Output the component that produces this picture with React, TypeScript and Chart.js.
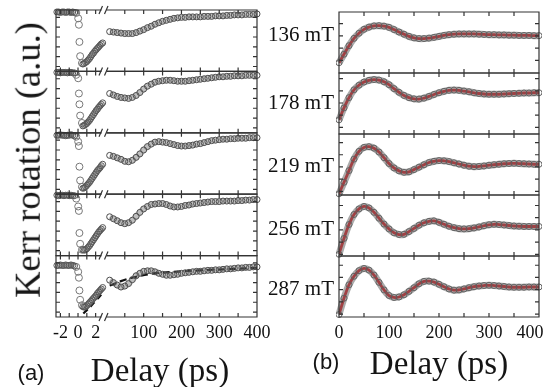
import React, { useEffect, useRef } from 'react';
import { Chart, registerables } from 'chart.js';

Chart.register(...registerables);

// ---------------- data: panel (a) (broken time axis) ----------------
const fieldLabels = ['136 mT', '178 mT', '219 mT', '256 mT', '287 mT'];

const tFlatA = [-2.4, -2.2, -2.0, -1.8, -1.6, -1.4, -1.2, -1.0, -0.8, -0.6, -0.4];
const tDropA = [-0.2, 0.02, 0.1, 0.16, 0.24, 0.45];
const tRiseA = [0.55, 0.7, 0.85, 1.0, 1.15, 1.3, 1.45, 1.6, 1.75, 1.9, 2.05, 2.2, 2.35, 2.5, 2.65, 2.8];
const tLongA = [10, 20, 30, 40, 50, 60, 70, 80, 90, 100, 110, 120, 130, 140, 150, 160, 170, 180, 190, 200,
  210, 220, 230, 240, 250, 260, 270, 280, 290, 300, 310, 320, 330, 340, 350, 360, 370, 380, 390, 400];

const flatA1 = [0.01, 0.01, 0.0, 0.01, 0.01, 0.0, 0.01, 0.01, 0.0, 0.01, 0.0];
const flatA2 = [0.03, 0.03, 0.02, 0.03, 0.03, 0.03, 0.02, 0.03, 0.03, 0.02, 0.02];
const flatA3 = [0.0, 0.0, 0.01, 0.0, 0.0, -0.01, 0.0, 0.0, 0.01, 0.0, -0.01];
const flatA4 = [0.03, 0.02, 0.03, 0.03, 0.02, 0.03, 0.03, 0.02, 0.03, 0.02, 0.02];
const flatA5 = [-0.15, -0.15, -0.14, -0.15, -0.15, -0.14, -0.15, -0.15, -0.14, -0.15, -0.16];

const dropA1 = [-0.01, -0.12, -0.25, -0.6, -0.89, -1.03];
const dropA2 = [-0.02, -0.09, -0.4, -0.62, -0.85, -1.0];
const dropA3 = [-0.03, -0.13, -0.22, -0.64, -0.92, -1.05];
const dropA4 = [-0.04, -0.2, -0.29, -0.74, -0.96, -1.08];
const dropA5 = [-0.18, -0.28, -0.4, -0.66, -0.85, -0.96];

const riseA1 = [-1.05, -1.04, -1.02, -1.0, -0.97, -0.94, -0.9, -0.86, -0.83, -0.79, -0.76, -0.73, -0.7, -0.67, -0.64, -0.62];
const riseA2 = [-1.06, -1.05, -1.03, -1.01, -0.98, -0.95, -0.91, -0.87, -0.83, -0.79, -0.75, -0.72, -0.68, -0.65, -0.62, -0.59];
const riseA3 = [-1.08, -1.07, -1.05, -1.02, -0.99, -0.96, -0.92, -0.88, -0.84, -0.8, -0.76, -0.72, -0.69, -0.66, -0.62, -0.59];
const riseA4 = [-1.08, -1.09, -1.08, -1.06, -1.03, -1.0, -0.96, -0.92, -0.88, -0.84, -0.8, -0.76, -0.72, -0.69, -0.66, -0.63];
const riseA5 = [-0.99, -1.0, -0.99, -0.97, -0.94, -0.91, -0.88, -0.85, -0.82, -0.79, -0.76, -0.72, -0.69, -0.66, -0.63, -0.6];

const longA1 = [-0.39, -0.4, -0.41, -0.42, -0.43, -0.43, -0.43, -0.41, -0.38, -0.35,
  -0.31, -0.28, -0.24, -0.21, -0.18, -0.16, -0.14, -0.12, -0.11, -0.1,
  -0.1, -0.09, -0.09, -0.09, -0.09, -0.08, -0.08, -0.08, -0.07, -0.07,
  -0.07, -0.06, -0.06, -0.05, -0.05, -0.05, -0.04, -0.04, -0.04, -0.03];
const longA2 = [-0.4, -0.43, -0.46, -0.48, -0.49, -0.5, -0.48, -0.44, -0.38, -0.31,
  -0.25, -0.21, -0.17, -0.15, -0.14, -0.13, -0.13, -0.14, -0.15, -0.15,
  -0.15, -0.14, -0.13, -0.12, -0.11, -0.1, -0.09, -0.08, -0.07, -0.06,
  -0.06, -0.05, -0.05, -0.04, -0.04, -0.04, -0.03, -0.03, -0.03, -0.03];
const longA3 = [-0.41, -0.43, -0.46, -0.49, -0.53, -0.54, -0.51, -0.45, -0.38, -0.3,
  -0.23, -0.18, -0.14, -0.13, -0.14, -0.15, -0.17, -0.19, -0.21, -0.22,
  -0.22, -0.21, -0.2, -0.18, -0.17, -0.15, -0.13, -0.11, -0.1, -0.09,
  -0.08, -0.08, -0.07, -0.07, -0.06, -0.06, -0.06, -0.05, -0.05, -0.05];
const longA4 = [-0.41, -0.45, -0.49, -0.53, -0.55, -0.53, -0.48, -0.4, -0.32, -0.25,
  -0.2, -0.16, -0.15, -0.14, -0.14, -0.16, -0.19, -0.21, -0.21, -0.2,
  -0.18, -0.17, -0.15, -0.14, -0.13, -0.12, -0.11, -0.1, -0.1, -0.1,
  -0.09, -0.09, -0.09, -0.09, -0.08, -0.08, -0.07, -0.07, -0.06, -0.06];
const longA5 = [-0.45, -0.5, -0.55, -0.59, -0.57, -0.52, -0.44, -0.36, -0.31, -0.27,
  -0.26, -0.26, -0.28, -0.31, -0.33, -0.35, -0.35, -0.34, -0.33, -0.31,
  -0.3, -0.29, -0.28, -0.27, -0.27, -0.26, -0.25, -0.25, -0.24, -0.24,
  -0.23, -0.22, -0.22, -0.21, -0.2, -0.2, -0.19, -0.19, -0.18, -0.18];

// dashed model curve in the last (a) panel
const tFitAL = [0.6, 1.0, 1.5, 2.0, 2.5, 2.9];
const fitAL5 = [-1.13, -1.06, -0.97, -0.87, -0.77, -0.7];
const tFitAR = [10, 40, 70, 120, 180, 250, 340, 400];
const fitAR5 = [-0.56, -0.47, -0.4, -0.32, -0.28, -0.25, -0.22, -0.2];

const flatA = [flatA1, flatA2, flatA3, flatA4, flatA5];
const dropA = [dropA1, dropA2, dropA3, dropA4, dropA5];
const riseA = [riseA1, riseA2, riseA3, riseA4, riseA5];
const longA = [longA1, longA2, longA3, longA4, longA5];

// ---------------- data: panel (b) ----------------
const tB = [0, 10, 20, 30, 40, 50, 60, 70, 80, 90, 100, 110, 120, 130, 140, 150, 160, 170, 180, 190, 200,
  210, 220, 230, 240, 250, 260, 270, 280, 290, 300, 310, 320, 330, 340, 350, 360, 370, 380, 390, 400];
const kerrB1 = [-1.1, -0.75, -0.4, -0.1, 0.11, 0.27, 0.36, 0.41, 0.42, 0.4, 0.35,
  0.26, 0.16, 0.07, -0.02, -0.08, -0.11, -0.11, -0.09, -0.06, -0.02,
  0.02, 0.05, 0.07, 0.08, 0.08, 0.08, 0.08, 0.07, 0.06, 0.05,
  0.05, 0.04, 0.04, 0.03, 0.03, 0.02, 0.02, 0.02, 0.01, 0.01];
const kerrB2 = [-0.69, -0.2, 0.22, 0.54, 0.73, 0.86, 0.93, 0.96, 0.94, 0.87, 0.75,
  0.59, 0.44, 0.31, 0.22, 0.17, 0.16, 0.2, 0.27, 0.35, 0.42,
  0.48, 0.52, 0.53, 0.52, 0.49, 0.46, 0.42, 0.39, 0.37, 0.36,
  0.36, 0.36, 0.37, 0.38, 0.39, 0.4, 0.41, 0.41, 0.42, 0.42];
const kerrB3 = [-1.1, -0.63, -0.15, 0.32, 0.64, 0.8, 0.83, 0.77, 0.61, 0.38, 0.14,
  -0.04, -0.16, -0.22, -0.2, -0.11, -0.01, 0.09, 0.18, 0.23, 0.26,
  0.25, 0.22, 0.17, 0.12, 0.07, 0.03, 0.01, 0.02, 0.04, 0.07,
  0.09, 0.11, 0.13, 0.14, 0.15, 0.14, 0.13, 0.12, 0.11, 0.11];
const kerrB4 = [-1.0, -0.35, 0.22, 0.63, 0.86, 0.96, 0.9, 0.72, 0.48, 0.24, 0.04,
  -0.12, -0.19, -0.18, -0.07, 0.06, 0.19, 0.29, 0.35, 0.37, 0.31,
  0.23, 0.15, 0.09, 0.05, 0.04, 0.05, 0.08, 0.12, 0.17, 0.21,
  0.23, 0.22, 0.2, 0.18, 0.16, 0.15, 0.14, 0.14, 0.14, 0.14];
const kerrB5 = [-1.02, -0.35, 0.2, 0.55, 0.78, 0.87, 0.8, 0.6, 0.3, -0.01, -0.24,
  -0.32, -0.3, -0.21, -0.07, 0.08, 0.24, 0.34, 0.35, 0.31, 0.22,
  0.12, 0.03, -0.02, -0.01, 0.03, 0.08, 0.12, 0.15, 0.17, 0.18,
  0.17, 0.15, 0.13, 0.11, 0.1, 0.1, 0.1, 0.11, 0.11, 0.11];
const kerrB = [kerrB1, kerrB2, kerrB3, kerrB4, kerrB5];
const yMaxB = [0.98, 1.23, 1.35, 1.43, 1.38];
const ySpanB = 2.5;

// ---------------- axis ticks ----------------
const xTicksAL = [-2, -1, 0, 1, 2];
const xLabelsAL = [-2, 0, 2];
const xTicksAR = [50, 100, 150, 200, 250, 300, 350];
const xLabelsAR = [100, 200, 300, 400];
const xTicksB = [50, 100, 150, 200, 250, 300, 350];
const xLabelsB = [0, 100, 200, 300, 400];
const yTicksA = [-1.1, -0.9, -0.7, -0.5, -0.3, -0.1];
const yTicksB = [-1, -0.5, 0, 0.5, 1];

const SERIF = "'Liberation Serif', 'Times New Roman', serif";
const SANS = "'Liberation Sans', Arial, sans-serif";
const INK = '#333';

const xy = (xs: number[], ys: number[]) => xs.map((x, i) => ({ x, y: ys[i] }));

function framePlugin(cfg: { yIds: string[]; xTicks: { id: string; values: number[] }[]; yTicks: number[]; breakId?: string }) {
  return {
    id: 'frames',
    afterDatasetsDraw(chart: any) {
      const { ctx, chartArea } = chart;
      const L = chartArea.left;
      const R = chartArea.right;
      ctx.save();
      ctx.strokeStyle = INK;
      ctx.lineWidth = 1.2;
      for (const id of cfg.yIds) {
        const ys = chart.scales[id];
        const T = ys.top;
        const B = ys.bottom;
        ctx.beginPath();
        ctx.rect(L, T, R - L, B - T);
        for (const xt of cfg.xTicks) {
          const xs = chart.scales[xt.id];
          for (const v of xt.values) {
            const px = xs.getPixelForValue(v);
            ctx.moveTo(px, B); ctx.lineTo(px, B - 4);
            ctx.moveTo(px, T); ctx.lineTo(px, T + 4);
          }
        }
        for (const v of cfg.yTicks) {
          if (v <= ys.min || v >= ys.max) continue;
          const py = ys.getPixelForValue(v);
          ctx.moveTo(L, py); ctx.lineTo(L + 4, py);
          ctx.moveTo(R, py); ctx.lineTo(R - 4, py);
        }
        ctx.stroke();
      }
      if (cfg.breakId) {
        const bx = chart.scales[cfg.breakId].right;
        const edges: number[] = [];
        cfg.yIds.forEach((id) => {
          const s = chart.scales[id];
          [s.top, s.bottom].forEach((e: number) => { if (!edges.some((q) => Math.abs(q - e) < 0.5)) edges.push(e); });
        });
        for (const y of edges) {
          ctx.fillStyle = '#fff';
          ctx.fillRect(bx - 2.5, y - 1.5, 5, 3);
          ctx.beginPath();
          ctx.moveTo(bx - 5, y + 4); ctx.lineTo(bx - 1.5, y - 4);
          ctx.moveTo(bx + 0.5, y + 4); ctx.lineTo(bx + 4, y - 4);
          ctx.stroke();
        }
      }
      ctx.restore();
    },
  };
}

const tickFont = { family: SERIF, size: 18 };
const bandA = { showLine: true, tension: 0.4, borderColor: 'rgba(95,95,95,0.4)', borderWidth: 6, pointRadius: 0, clip: 4 };
const ringA = { showLine: false, clip: 4, pointBorderWidth: 1, pointBackgroundColor: 'rgba(255,255,255,0)' };

function configA(): any {
  const yIds = ['a0', 'a1', 'a2', 'a3', 'a4'];
  const datasets: any[] = [];
  yIds.forEach((id, i) => {
    datasets.push({ ...bandA, data: xy(tFlatA, flatA[i]), xAxisID: 'xL', yAxisID: id });
    datasets.push({ ...bandA, data: xy(tRiseA, riseA[i]), xAxisID: 'xL', yAxisID: id });
    datasets.push({ ...bandA, data: xy(tLongA, longA[i]), xAxisID: 'xR', yAxisID: id });
    datasets.push({
      ...ringA, data: xy([...tFlatA, ...tRiseA], [...flatA[i], ...riseA[i]]),
      xAxisID: 'xL', yAxisID: id, pointRadius: 3, pointBorderColor: '#555',
    });
    datasets.push({
      ...ringA, data: xy(tDropA, dropA[i]),
      xAxisID: 'xL', yAxisID: id, pointRadius: 3.5, pointBorderColor: '#777',
    });
    datasets.push({
      ...ringA, data: xy(tLongA, longA[i]),
      xAxisID: 'xR', yAxisID: id, pointRadius: 3, pointBorderColor: '#4a4a4a',
    });
  });
  datasets.push({
    data: xy(tFitAL, fitAL5), xAxisID: 'xL', yAxisID: 'a4', showLine: true, tension: 0.4,
    borderColor: '#111', borderWidth: 2.2, borderDash: [6, 4], pointRadius: 0,
  });
  datasets.push({
    data: xy(tFitAR, fitAR5), xAxisID: 'xR', yAxisID: 'a4', showLine: true, tension: 0.4,
    borderColor: '#111', borderWidth: 2.2, borderDash: [7, 4], pointRadius: 0,
  });

  const scales: any = {
    xL: {
      type: 'linear', axis: 'x', position: 'bottom', stack: 'ax', stackWeight: 48, min: -2.5, max: 2.95,
      grid: { display: false, drawTicks: false }, border: { display: false },
      afterBuildTicks: (s: any) => { s.ticks = xLabelsAL.map((v) => ({ value: v })); },
      ticks: { padding: 5, color: '#111', font: tickFont, maxRotation: 0, autoSkip: false, callback: (v: any) => String(v) },
      afterFit: (s: any) => { s.height = 30; s.paddingLeft = 0; s.paddingRight = 0; },
    },
    xR: {
      type: 'linear', axis: 'x', position: 'bottom', stack: 'ax', stackWeight: 153, min: -5, max: 400,
      grid: { display: false, drawTicks: false }, border: { display: false },
      afterBuildTicks: (s: any) => { s.ticks = xLabelsAR.map((v) => ({ value: v })); },
      ticks: { padding: 5, color: '#111', font: tickFont, maxRotation: 0, autoSkip: false, callback: (v: any) => String(v) },
      afterFit: (s: any) => { s.height = 30; s.paddingLeft = 0; s.paddingRight = 0; },
    },
  };
  [...yIds].reverse().forEach((id) => {
    scales[id] = {
      type: 'linear', axis: 'y', position: 'left', stack: 'ay', stackWeight: 1, min: -1.2, max: 0.05,
      display: false,
      afterFit: (s: any) => { s.width = 56; s.paddingTop = 0; s.paddingBottom = 0; },
    };
  });

  return {
    type: 'scatter',
    data: { datasets },
    options: {
      responsive: false, animation: false, events: [],
      layout: { padding: { left: 0, top: 10, right: 43, bottom: 40 } },
      plugins: { legend: { display: false }, tooltip: { enabled: false }, title: { display: false } },
      scales,
    },
    plugins: [framePlugin({ yIds, xTicks: [{ id: 'xL', values: xTicksAL }, { id: 'xR', values: xTicksAR }], yTicks: yTicksA, breakId: 'xL' })],
  };
}

function configB(): any {
  const yIds = ['b0', 'b1', 'b2', 'b3', 'b4'];
  const datasets: any[] = [];
  yIds.forEach((id, i) => {
    datasets.push({
      data: xy(tB, kerrB[i]), xAxisID: 'x', yAxisID: id, showLine: true, tension: 0.4, clip: 3,
      borderColor: 'rgba(100,100,100,0.55)', borderWidth: 7, pointRadius: 0,
    });
    datasets.push({
      data: xy(tB, kerrB[i]), xAxisID: 'x', yAxisID: id, showLine: false, clip: 3,
      pointRadius: 3, pointBorderWidth: 0.9, pointBorderColor: '#555', pointBackgroundColor: 'rgba(255,255,255,0)',
    });
    datasets.push({
      data: xy(tB, kerrB[i]), xAxisID: 'x', yAxisID: id, showLine: true, tension: 0.4,
      borderColor: '#e8141c', borderWidth: 2.8, pointRadius: 0,
    });
  });
  const scales: any = {
    x: {
      type: 'linear', axis: 'x', position: 'bottom', min: 0, max: 400,
      grid: { display: false, drawTicks: false }, border: { display: false },
      afterBuildTicks: (s: any) => { s.ticks = xLabelsB.map((v) => ({ value: v })); },
      ticks: {
        padding: 5, color: '#111', font: tickFont, maxRotation: 0, autoSkip: false,
        callback: (v: any) => (v === 400 ? '400\u2002\u2002' : String(v)),
      },
      afterFit: (s: any) => { s.height = 30; s.paddingLeft = 0; s.paddingRight = 0; },
    },
  };
  yIds.map((id, i) => ({ id, i })).reverse().forEach(({ id, i }) => {
    scales[id] = {
      type: 'linear', axis: 'y', position: 'left', stack: 'by', stackWeight: 1,
      min: yMaxB[i] - ySpanB, max: yMaxB[i],
      grid: { display: false, drawTicks: false }, border: { display: false },
      afterBuildTicks: (s: any) => { s.ticks = [{ value: 0 }]; },
      ticks: { padding: 5, color: '#111', font: { family: SERIF, size: 21 }, autoSkip: false, callback: () => fieldLabels[i] },
      afterFit: (s: any) => { s.width = 79; s.paddingTop = 0; s.paddingBottom = 0; },
    };
  });
  return {
    type: 'scatter',
    data: { datasets },
    options: {
      responsive: false, animation: false, events: [],
      layout: { padding: { left: 0, top: 12, right: 14, bottom: 40 } },
      plugins: { legend: { display: false }, tooltip: { enabled: false }, title: { display: false } },
      scales,
    },
    plugins: [framePlugin({ yIds, xTicks: [{ id: 'x', values: xTicksB }], yTicks: yTicksB })],
  };
}

function Label(props: { x: number; y: number; size: number; family: string; text: string; rotate?: boolean }) {
  const { x, y, size, family, text, rotate } = props;
  return (
    <div
      style={{
        position: 'absolute', left: x, top: y,
        transform: `translate(-50%, -50%)${rotate ? ' rotate(-90deg)' : ''}`,
        fontFamily: family, fontSize: size, lineHeight: 1, whiteSpace: 'nowrap', color: '#151515',
      }}
    >
      {text}
    </div>
  );
}

export default function App() {
  const refA = useRef<HTMLCanvasElement>(null);
  const refB = useRef<HTMLCanvasElement>(null);
  useEffect(() => {
    const chartA = new Chart(refA.current as HTMLCanvasElement, configA());
    const chartB = new Chart(refB.current as HTMLCanvasElement, configB());
    return () => { chartA.destroy(); chartB.destroy(); };
  }, []);
  return (
    <div style={{ position: 'absolute', left: 0, top: 0, width: 553, height: 387, background: '#fff', overflow: 'hidden' }}>
      <canvas ref={refA} width={300} height={387} style={{ position: 'absolute', left: 0, top: 0, width: 300, height: 387 }} />
      <canvas ref={refB} width={293} height={387} style={{ position: 'absolute', left: 260, top: 0, width: 293, height: 387 }} />
      <Label x={28} y={160} size={36.5} family={SERIF} text="Kerr rotation (a.u.)" rotate />
      <Label x={160} y={370} size={33} family={SERIF} text="Delay (ps)" />
      <Label x={439} y={363} size={33} family={SERIF} text="Delay (ps)" />
      <Label x={31} y={373} size={22} family={SANS} text="(a)" />
      <Label x={326} y={362} size={22} family={SANS} text="(b)" />
    </div>
  );
}
